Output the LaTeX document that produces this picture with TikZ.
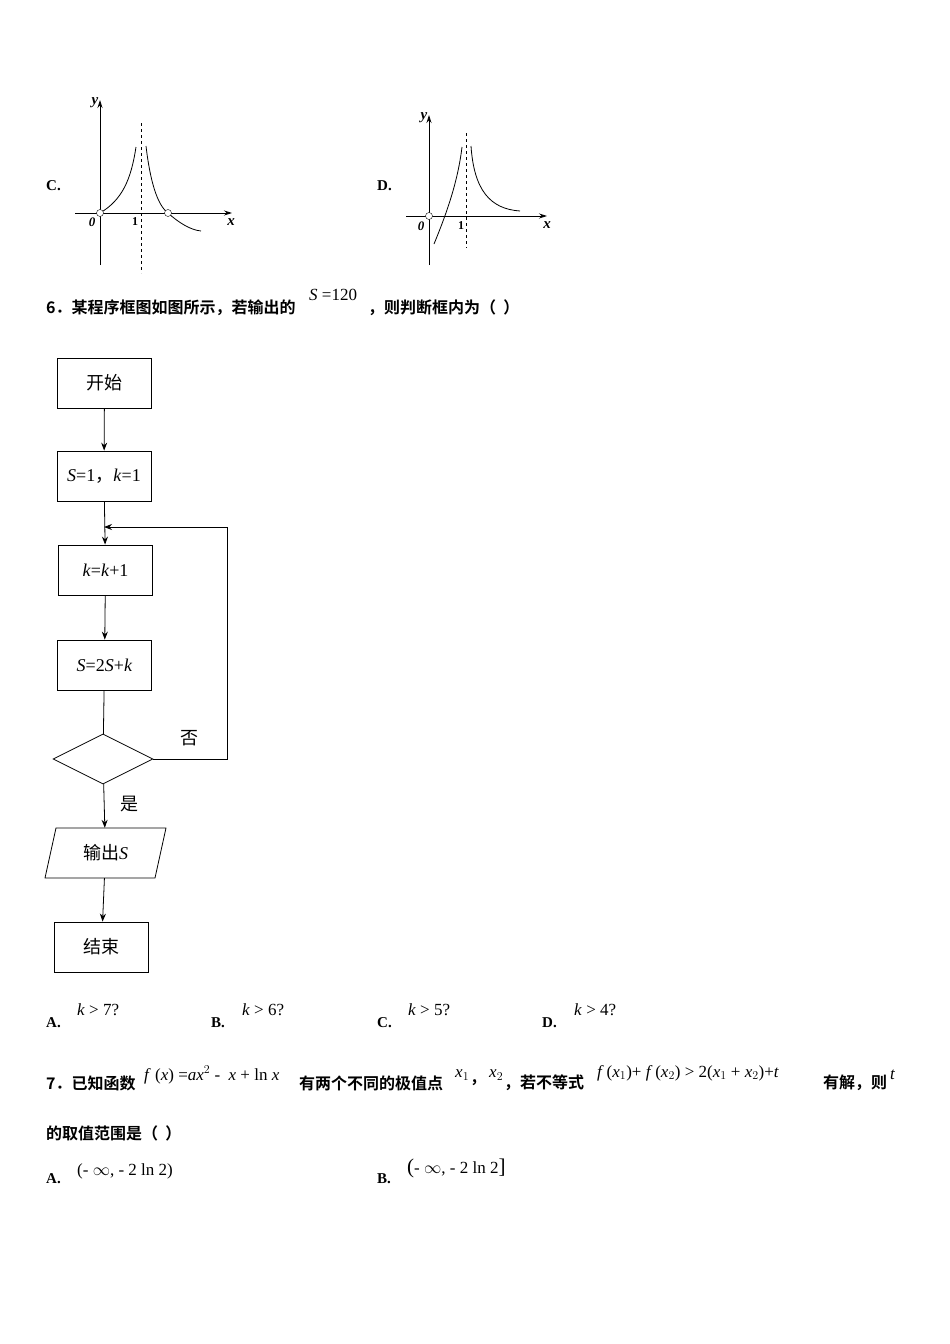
\documentclass[tikz,border=0pt]{standalone}
\usepackage{fontspec}
\setmainfont{Liberation Serif}
\newfontfamily\cjk{Noto Sans CJK SC}
\newfontfamily\cjkb{Noto Sans CJK SC}[BoldFont={* Bold}]
\usetikzlibrary{shapes.geometric,arrows.meta}
\begin{document}
\begin{tikzpicture}[x=1pt,y=-1pt,
  box/.style={draw,thick,minimum width=94pt,minimum height=50pt,inner sep=0pt,font=\fontsize{18}{18}\selectfont},
  arr/.style={-{Stealth[length=8pt,width=6pt]},thick},
  ax/.style={-{Stealth[length=8pt,width=5pt]},thick},
  t/.style={anchor=west,inner sep=0pt,font=\cjkb\bfseries\fontsize{16}{16}\selectfont},
  m/.style={anchor=west,inner sep=0pt,font=\fontsize{17}{17}\selectfont},
  lab/.style={inner sep=0pt,font=\bfseries\fontsize{15}{15}\selectfont}]
\useasboundingbox (0,0) rectangle (950,1344);
% graph C
\node[lab,anchor=west] (lc) at (46,186) {C.};
\draw[ax] (100,265) -- (100,100);
\draw[ax] (75,213) -- (232,213);
\draw[dashed] (141,123) -- (141,273);
\node[inner sep=0pt,font=\bfseries\itshape\fontsize{15}{15}\selectfont] at (95,103) {y};
\node[inner sep=0pt,font=\bfseries\itshape\fontsize{15}{15}\selectfont] at (231,222) {x};
\node[inner sep=0pt,font=\bfseries\itshape\fontsize{13}{13}\selectfont] at (92,222) {0};
\node[inner sep=0pt,font=\bfseries\fontsize{12}{12}\selectfont] at (135,222) {1};
\draw[thick] (100,213) .. controls (122,200) and (131,180) .. (136,147);
\draw[thick] (146,146) .. controls (150,180) and (157,205) .. (168,213) .. controls (178,222) and (190,230) .. (201,231);
\draw[fill=white] (100,213) circle (3.5);
\draw[fill=white] (168,213) circle (3.5);
% graph D
\node[lab,anchor=west] (ld) at (377,186) {D.};
\draw[ax] (429,265) -- (429,115);
\draw[ax] (406,216) -- (547,216);
\draw[dashed] (466,133) -- (466,248);
\node[inner sep=0pt,font=\bfseries\itshape\fontsize{15}{15}\selectfont] at (424,118) {y};
\node[inner sep=0pt,font=\bfseries\itshape\fontsize{15}{15}\selectfont] at (547,225) {x};
\node[inner sep=0pt,font=\bfseries\itshape\fontsize{13}{13}\selectfont] at (421,226) {0};
\node[inner sep=0pt,font=\bfseries\fontsize{12}{12}\selectfont] at (461,226) {1};
\draw[thick] (434,244) .. controls (448,210) and (458,180) .. (462,147);
\draw[thick] (471,146) .. controls (474,190) and (490,209) .. (520,211);
\draw[fill=white] (429,216) circle (3.5);
% question 6
\node[t] (q6) at (46,308) {6．某程序框图如图所示，若输出的};
\node[m] (s120) at (309,295) {\textit{S} =120};
\node[t] (q6b) at (368,308) {，则判断框内为（ \ ）};
% flowchart
\node[box] (start) at (104.5,383) {\cjk 开始};
\node[box] (init) at (104,476) {\textit{S}=1{\cjk ，}\textit{k}=1};
\node[box] (inc) at (105.5,570) {\textit{k}=\textit{k}+1};
\node[box] (upd) at (104.5,665) {\textit{S}=2\textit{S}+\textit{k}};
\node[draw,thick,diamond,minimum width=100pt,minimum height=50pt,inner sep=0pt,aspect=2] (dec) at (103,759) {};
\node[minimum width=110pt,minimum height=50pt,inner sep=0pt,font=\fontsize{18}{18}\selectfont] (out) at (105.5,853) {{\cjk 输出}\textit{S}};
\draw[thick] (45,878) -- (56,828) -- (166,828) -- (155,878) -- cycle;
\node[box] (end) at (101.5,947) {\cjk 结束};
\coordinate (j) at (104,527);
\coordinate (r1) at (227,759);
\coordinate (r2) at (227,527);
\draw[arr] (start) -- (init);
\draw[arr] (init) -- (inc);
\draw[arr] (inc) -- (upd);
\draw[thick] (upd) -- (dec);
\draw[arr] (dec) -- (out);
\draw[arr] (out) -- (end);
\draw[arr] (dec.east) -- (r1) -- (r2) -- (j);
\node[inner sep=0pt,font=\cjk\fontsize{18}{18}\selectfont] (no) at (189,738) {否};
\node[inner sep=0pt,font=\cjk\fontsize{18}{18}\selectfont] (yes) at (129,804) {是};
% answers
\node[lab,anchor=west] (a) at (46,1023) {A.};
\node[m] (ea) at (77,1010) {\textit{k} > 7?};
\node[lab,anchor=west] (b) at (211,1023) {B.};
\node[m] (eb) at (242,1010) {\textit{k} > 6?};
\node[lab,anchor=west] (c) at (377,1023) {C.};
\node[m] (ec) at (408,1010) {\textit{k} > 5?};
\node[lab,anchor=west] (d) at (542,1023) {D.};
\node[m] (ed) at (574,1010) {\textit{k} > 4?};
% question 7
\node[t] (q7) at (46,1083) {7．已知函数};
\node[m] (f) at (144,1075) {\textit{f} (\textit{x}) =\textit{ax}$^{2}$ - \ \textit{x} + ln \textit{x}};
\node[t] (q7b) at (299,1083) {有两个不同的极值点};
\node[m] (x1) at (455,1075) {\textit{x}$_{1}$};
\node[t] (cm) at (470,1083) {，};
\node[m] (x2) at (489,1075) {\textit{x}$_{2}$};
\node[t] (q7c) at (504,1083) {，若不等式};
\node[m] (ineq) at (597,1073) {\textit{f}\,(\textit{x}$_{1}$)+ \textit{f}\,(\textit{x}$_{2}$) > 2(\textit{x}$_{1}$ + \textit{x}$_{2}$)+\textit{t}};
\node[t] (q7d) at (823,1083) {有解，则};
\node[m] (tt) at (890,1075) {\textit{t}};
\node[t] (q7e) at (46,1133) {的取值范围是（ \ ）};
\node[lab,anchor=west] (a7) at (46,1179) {A.};
\node[m] (ea7) at (77,1171) {(- $\infty$, - 2 ln 2)};
\node[lab,anchor=west] (b7) at (377,1179) {B.};
\node[m] (eb7) at (407,1168) {{\fontsize{21}{21}\selectfont(}- $\infty$, - 2 ln 2{\fontsize{21}{21}\selectfont]}};
\end{tikzpicture}
\end{document}
